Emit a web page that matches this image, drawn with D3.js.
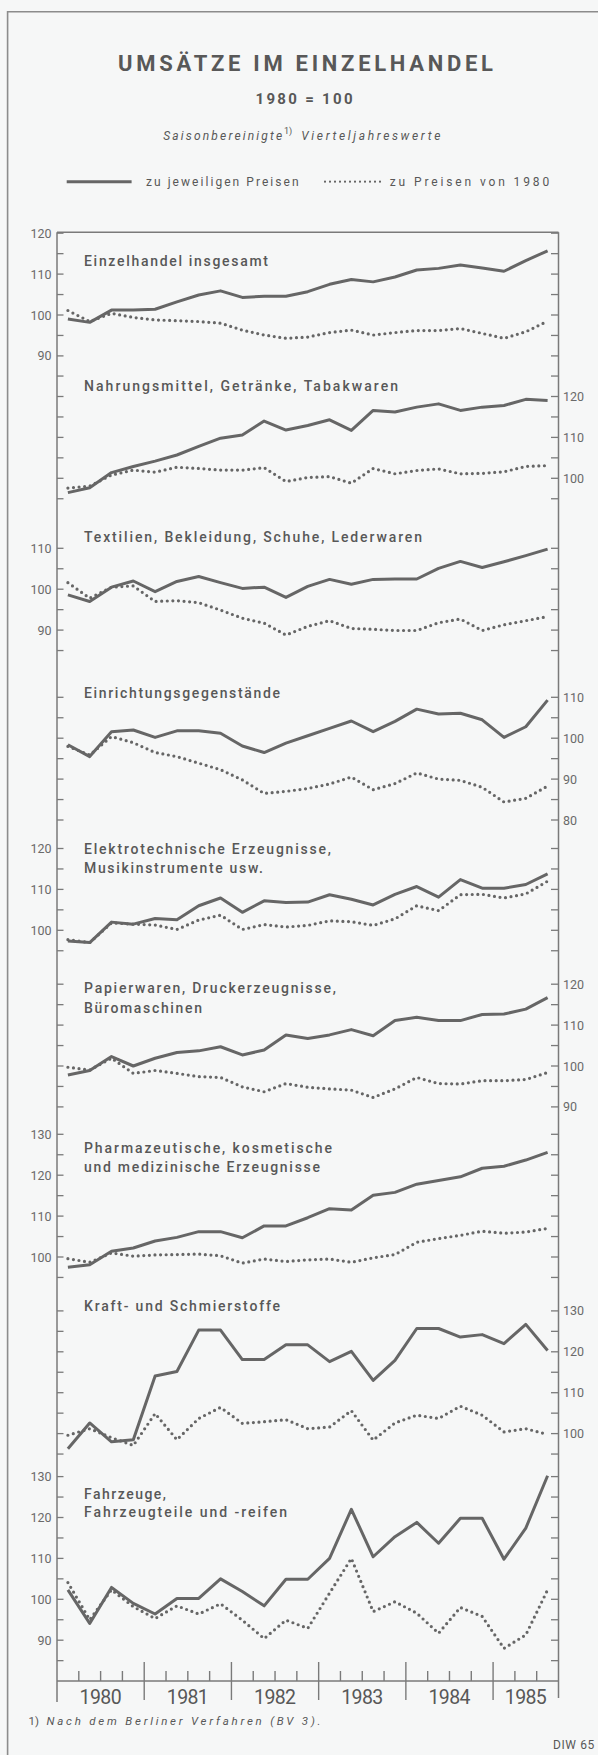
<!DOCTYPE html>
<html><head><meta charset="utf-8">
<script src="https://cdn.jsdelivr.net/npm/d3@7"></script>
<style>
html,body{margin:0;padding:0;background:#f6f7f7}
svg{display:block}
</style>
</head><body>
<svg id="chart" width="598" height="1755"></svg>
<script>
// ---------------- DATA ----------------
const quarters = ["1980Q1","1980Q2","1980Q3","1980Q4","1981Q1","1981Q2","1981Q3","1981Q4",
  "1982Q1","1982Q2","1982Q3","1982Q4","1983Q1","1983Q2","1983Q3","1983Q4",
  "1984Q1","1984Q2","1984Q3","1984Q4","1985Q1","1985Q2","1985Q3"];
const years = ["1980","1981","1982","1983","1984","1985"];
const seriesNames = ["zu jeweiligen Preisen","zu Preisen von 1980"];

const einzelhandelNominal = [99.0,98.2,101.2,101.2,101.4,103.2,104.9,105.9,104.3,104.6,104.6,105.7,107.5,108.7,108.1,109.3,111.0,111.4,112.2,111.5,110.7,113.3,115.7];
const einzelhandelReal    = [101.1,98.4,100.4,99.4,98.8,98.6,98.4,98.0,96.3,95.1,94.3,94.6,95.7,96.3,95.1,95.7,96.2,96.2,96.7,95.5,94.3,95.9,98.5];

const nahrungNominal = [96.5,97.7,101.4,102.9,104.2,105.7,107.8,109.8,110.6,114.0,111.8,112.9,114.3,111.7,116.6,116.2,117.4,118.2,116.6,117.4,117.8,119.3,119.0];
const nahrungReal    = [97.6,98.1,100.8,102.0,101.5,102.7,102.4,102.0,102.0,102.6,99.2,100.2,100.4,98.8,102.4,101.1,101.9,102.3,101.1,101.2,101.6,102.9,103.1];

const textilNominal = [98.6,97.0,100.5,102.0,99.4,101.9,103.1,101.6,100.2,100.5,98.0,100.7,102.4,101.2,102.4,102.5,102.5,105.1,106.8,105.3,106.7,108.2,109.8];
const textilReal    = [101.6,97.8,100.5,100.8,97.0,97.2,96.7,94.9,92.9,91.7,88.8,90.9,92.3,90.4,90.2,89.9,89.9,91.8,92.7,89.9,91.3,92.3,93.3];

const einrichtungNominal = [98.4,95.5,101.6,102.0,100.2,101.8,101.8,101.2,98.1,96.5,98.8,100.6,102.4,104.2,101.6,104.1,107.1,105.9,106.1,104.5,100.2,102.8,109.3];
const einrichtungReal    = [98.0,95.9,100.4,98.9,96.5,95.5,93.9,92.3,89.8,86.5,87.0,87.7,88.8,90.5,87.4,88.9,91.5,90.0,89.7,88.0,84.4,85.3,88.3];

const elektroNominal = [97.4,97.0,102.0,101.5,102.9,102.6,106.0,107.9,104.4,107.2,106.8,106.9,108.7,107.6,106.2,108.8,110.7,108.1,112.4,110.3,110.3,111.2,113.8];
const elektroReal    = [97.7,97.0,101.8,101.5,101.3,100.2,102.5,103.7,100.2,101.4,100.8,101.2,102.3,102.1,101.2,102.8,106.0,104.8,108.7,108.8,107.9,108.9,112.0];

const papierNominal = [97.8,98.9,102.3,100.0,101.9,103.3,103.7,104.7,102.7,103.9,107.6,106.7,107.6,108.9,107.4,111.1,111.9,111.1,111.1,112.6,112.7,113.9,116.7];
const papierReal    = [99.7,99.0,101.9,98.2,98.9,98.2,97.4,97.2,94.9,93.7,95.7,94.8,94.4,94.1,92.3,94.4,97.2,95.7,95.6,96.4,96.4,96.7,98.4];

const pharmaNominal = [97.5,98.1,101.4,102.2,103.9,104.8,106.2,106.2,104.7,107.6,107.6,109.6,111.8,111.5,115.1,115.8,117.8,118.7,119.6,121.7,122.2,123.7,125.6];
const pharmaReal    = [99.6,98.7,101.0,100.2,100.5,100.6,100.7,100.3,98.5,99.5,98.9,99.3,99.5,98.7,99.8,100.6,103.6,104.5,105.3,106.3,105.8,106.1,107.0];

const kraftNominal = [96.3,102.6,98.0,98.5,114.1,115.2,125.3,125.3,118.1,118.1,121.7,121.7,117.6,120.1,113.0,117.9,125.7,125.7,123.6,124.2,122.0,126.7,120.3];
const kraftReal    = [99.6,101.2,99.0,97.1,104.9,98.5,103.7,106.4,102.5,102.9,103.4,101.2,101.6,105.6,98.4,102.6,104.5,103.7,106.7,104.5,100.4,101.2,99.8];

const fahrzeugNominal = [102.3,94.1,102.9,99.0,96.4,100.2,100.2,105.0,101.9,98.4,104.9,104.9,110.0,122.0,110.4,115.3,118.8,113.7,119.8,119.8,109.8,117.4,130.2];
const fahrzeugReal    = [104.1,95.0,102.3,98.2,95.3,98.4,96.4,98.9,94.9,90.4,94.9,92.9,101.5,110.0,97.0,99.4,96.6,91.7,98.0,95.8,88.0,91.3,102.3];

const panelTitles = [
  ["Einzelhandel insgesamt"],
  ["Nahrungsmittel, Getränke, Tabakwaren"],
  ["Textilien, Bekleidung, Schuhe, Lederwaren"],
  ["Einrichtungsgegenstände"],
  ["Elektrotechnische Erzeugnisse,","Musikinstrumente usw."],
  ["Papierwaren, Druckerzeugnisse,","Büromaschinen"],
  ["Pharmazeutische, kosmetische","und medizinische Erzeugnisse"],
  ["Kraft- und Schmierstoffe"],
  ["Fahrzeuge,","Fahrzeugteile und -reifen"]
];
// tick ranges [top, bottom] per panel (ticks every 5, labels every 10)
const tickRanges = [[120,90],[125,95],[110,85],[110,80],[120,95],[120,90],[130,95],[130,95],[130,85]];
const nominalSeries = [einzelhandelNominal,nahrungNominal,textilNominal,einrichtungNominal,elektroNominal,papierNominal,pharmaNominal,kraftNominal,fahrzeugNominal];
const realSeries = [einzelhandelReal,nahrungReal,textilReal,einrichtungReal,elektroReal,papierReal,pharmaReal,kraftReal,fahrzeugReal];

// ---------------- LAYOUT ----------------
const ink = "#585858";
const lineInk = "#666";
const axisInk = "#7a7a7a";
const x0 = 57, x1 = 558.5;
const pxPerUnit = 4.09;
const y100 = [315.0, 478.3, 589.2, 738.2, 930.3, 1066.0, 1257.0, 1433.6, 1599.3];
const labelSide = ["left","right","left","right","left","right","left","right","left"];
const titleBase = [[266],[391.3],[541.5],[698],[854,873],[993.3,1012.5],[1153.3,1172],[1310.7],[1499.3,1516.7]];
const titleLen = [[184],[314],[338],[196],[247,179],[252,118],[248,236],[196],[82,203]];
const plotTop = 232.3, axisY = 1681;

const svg = d3.select("#chart");
svg.append("rect").attr("width",598).attr("height",1755).attr("fill","#f6f7f7");

// outer frame (left + top)
svg.append("path").attr("d","M7.6,1755 V11.7 H598").attr("fill","none")
  .attr("stroke","#8c8c8c").attr("stroke-width",1.6);

const fontMain = "Roboto, 'Liberation Sans', Arial, sans-serif";

// Header
svg.append("text").attr("x",118).attr("y",71).attr("textLength",375).attr("lengthAdjust","spacing")
  .attr("font-family",fontMain).attr("font-weight",700).attr("font-size",22).attr("fill",ink)
  .text("UMSÄTZE IM EINZELHANDEL");
svg.append("text").attr("x",255.5).attr("y",104).attr("textLength",97).attr("lengthAdjust","spacing")
  .attr("font-family",fontMain).attr("font-weight",700).attr("font-size",15).attr("fill",ink)
  .text("1980 = 100");
const sub = svg.append("g").attr("font-family",fontMain).attr("font-style","italic").attr("font-size",12).attr("fill",ink);
sub.append("text").attr("x",163.2).attr("y",140).attr("textLength",119).attr("lengthAdjust","spacing").text("Saisonbereinigte");
sub.append("text").attr("x",284).attr("y",134).attr("font-size",9).attr("font-style","normal").text("1)");
sub.append("text").attr("x",301.3).attr("y",140).attr("textLength",139).attr("lengthAdjust","spacing").text("Vierteljahreswerte");

// Legend
const legY = 181.7;
svg.append("line").attr("x1",66.7).attr("x2",131.6).attr("y1",legY).attr("y2",legY)
  .attr("stroke",lineInk).attr("stroke-width",3);
svg.append("line").attr("x1",325).attr("x2",385).attr("y1",legY).attr("y2",legY)
  .attr("stroke",lineInk).attr("stroke-width",2.2).attr("stroke-linecap","round").attr("stroke-dasharray","0 5");
svg.append("text").attr("x",146).attr("y",185.7).attr("textLength",152.6).attr("lengthAdjust","spacing")
  .attr("font-family",fontMain).attr("font-size",12).attr("fill",ink).text(seriesNames[0]);
svg.append("text").attr("x",389.8).attr("y",185.7).attr("textLength",159.4).attr("lengthAdjust","spacing")
  .attr("font-family",fontMain).attr("font-size",12).attr("fill",ink).text(seriesNames[1]);

// X scale (quarters)
const x = d3.scaleBand().domain(quarters).range([x0, x1]).paddingInner(0).paddingOuter(0);
const q = x.bandwidth();
const xc = d => x(d) + q/2;

// plot frame: top, left, right, bottom axis
const axes = svg.append("g").attr("stroke",axisInk).attr("stroke-width",1.5).attr("fill","none");
axes.append("line").attr("x1",x0).attr("x2",x1).attr("y1",plotTop).attr("y2",plotTop);
axes.append("line").attr("x1",x0).attr("x2",x0).attr("y1",plotTop).attr("y2",1702);
axes.append("line").attr("x1",x1).attr("x2",x1).attr("y1",plotTop).attr("y2",1698);
axes.append("line").attr("x1",x0).attr("x2",x1).attr("y1",axisY).attr("y2",axisY);

// Panels
panelTitles.forEach((titles, p) => {
  const y = d3.scaleLinear().domain([100, 110]).range([y100[p], y100[p] - 10*pxPerUnit]);
  const [tTop, tBot] = tickRanges[p];
  const ticks = d3.range(tBot, tTop + 0.1, 5);
  const g = svg.append("g");
  g.selectAll(".lt").data(ticks).join("line")
    .attr("x1",x0).attr("x2",x0+6.5).attr("y1",d=>y(d)).attr("y2",d=>y(d))
    .attr("stroke",axisInk).attr("stroke-width",1.3);
  g.selectAll(".rt").data(ticks).join("line")
    .attr("x1",x1-7.5).attr("x2",x1).attr("y1",d=>y(d)).attr("y2",d=>y(d))
    .attr("stroke",axisInk).attr("stroke-width",1.3);
  const labs = ticks.filter(d => d % 10 === 0);
  const left = labelSide[p] === "left";
  g.selectAll(".lab").data(labs).join("text")
    .attr("x", left ? 51.5 : 563)
    .attr("y", d => y(d))
    .attr("dy","0.36em")
    .attr("text-anchor", left ? "end" : "start")
    .attr("font-family",fontMain).attr("font-size",12.5).attr("fill","#6a6a6a")
    .text(d => d);
  titles.forEach((t, i) => {
    g.append("text").attr("x",84).attr("y",titleBase[p][i])
      .attr("textLength",titleLen[p][i]).attr("lengthAdjust","spacing")
      .attr("font-family",fontMain).attr("font-weight",500).attr("font-size",14).attr("fill",ink)
      .text(t);
  });
  const line = d3.line().x((d,i)=>xc(quarters[i])).y(d=>y(d));
  g.append("path").attr("d",line(realSeries[p])).attr("fill","none")
    .attr("stroke",lineInk).attr("stroke-width",3.2).attr("stroke-linecap","round")
    .attr("stroke-dasharray","0 5.6");
  g.append("path").attr("d",line(nominalSeries[p])).attr("fill","none")
    .attr("stroke",lineInk).attr("stroke-width",3).attr("stroke-linejoin","round");
});

// X axis ticks
const xt = svg.append("g").attr("stroke",axisInk).attr("stroke-width",1.4);
quarters.forEach((qq, i) => {
  if (i === 0) return;
  const xx = x(qq);
  if (i % 4 === 0) {
    xt.append("line").attr("x1",xx).attr("x2",xx).attr("y1",axisY-19).attr("y2",axisY+19);
  } else {
    xt.append("line").attr("x1",xx).attr("x2",xx).attr("y1",axisY-10).attr("y2",axisY);
  }
});
// Year labels
years.forEach((yr) => {
  const first = quarters.findIndex(d => d.startsWith(yr));
  const last = quarters.length - 1 - [...quarters].reverse().findIndex(d => d.startsWith(yr));
  const cx = (x(quarters[first]) + x(quarters[last]) + q) / 2;
  svg.append("text").attr("x",cx - 21).attr("y",1704.3).attr("textLength",42).attr("lengthAdjust","spacing")
    .attr("font-family",fontMain).attr("font-size",19.5).attr("fill",ink).text(yr);
});

// Footnote
svg.append("text").attr("x",28.6).attr("y",1725).attr("font-family",fontMain).attr("font-size",11.5).attr("fill",ink).text("1)");
svg.append("text").attr("x",46.5).attr("y",1725).attr("textLength",274).attr("lengthAdjust","spacing")
  .attr("font-family",fontMain).attr("font-style","italic").attr("font-size",11.5).attr("fill",ink)
  .text("Nach dem Berliner Verfahren (BV 3).");
svg.append("text").attr("x",553).attr("y",1749).attr("font-family",fontMain).attr("font-size",12)
  .attr("letter-spacing",0.6).attr("fill",ink).text("DIW 65");
</script>
</body></html>
